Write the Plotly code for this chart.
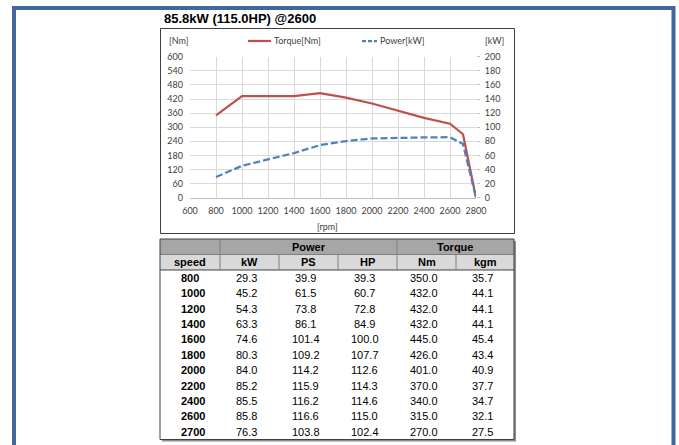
import plotly.graph_objects as go

# ---------------- data ----------------
speed = [800, 1000, 1200, 1400, 1600, 1800, 2000, 2200, 2400, 2600, 2700]
kw = [29.3, 45.2, 54.3, 63.3, 74.6, 80.3, 84.0, 85.2, 85.5, 85.8, 76.3]
ps = [39.9, 61.5, 73.8, 86.1, 101.4, 109.2, 114.2, 115.9, 116.2, 116.6, 103.8]
hp = [39.3, 60.7, 72.8, 84.9, 100.0, 107.7, 112.6, 114.3, 114.6, 115.0, 102.4]
nm = [350.0, 432.0, 432.0, 432.0, 445.0, 426.0, 401.0, 370.0, 340.0, 315.0, 270.0]
kgm = [35.7, 44.1, 44.1, 44.1, 45.4, 43.4, 40.9, 37.7, 34.7, 32.1, 27.5]

chart_rpm = speed + [2800]
chart_torque = nm + [0]
chart_power = kw + [0]

title_text = "85.8kW (115.0HP) @2600"
group_headers = ["", "Power", "Torque"]
col_headers = ["speed", "kW", "PS", "HP", "Nm", "kgm"]
table_cols = [speed, kw, ps, hp, nm, kgm]

# ---------------- geometry helpers ----------------
W, H = 679, 445


def px(x):
    return x / W


def py(y):
    return 1 - y / H


RED = "#c0504d"
BLUE = "#4f81bd"
GRID = "#d9d9d9"
TICKFONT = dict(family="Lato, Carlito, Calibri, sans-serif", size=9, color="#404040")
TABFONT = "Liberation Sans Narrow, Arial Narrow, Liberation Sans, Arial, sans-serif"
TABSIZE = 11

fig = go.Figure()
fig.add_trace(go.Scatter(x=chart_rpm, y=chart_torque, mode="lines", name="Torque[Nm]",
                         line=dict(color=RED, width=2.25), yaxis="y", showlegend=False))
fig.add_trace(go.Scatter(x=chart_rpm, y=chart_power, mode="lines", name="Power[kW]",
                         line=dict(color=BLUE, width=2.25, dash="7px,3px"), yaxis="y2",
                         showlegend=False))

shapes = []
annotations = []

# outer blue frame
shapes.append(dict(type="rect", xref="paper", yref="paper", x0=px(14), x1=px(673.5),
                   y0=py(470), y1=py(8), line=dict(color="#41679c", width=4), layer="below"))
# chart box
shapes.append(dict(type="rect", xref="paper", yref="paper", x0=px(160.5), x1=px(514.5),
                   y0=py(233.5), y1=py(28.5), line=dict(color="#404040", width=1), layer="below"))

# title
annotations.append(dict(text="<b>" + title_text + "</b>", xref="paper", yref="paper",
                        x=px(162), y=py(18), xanchor="left", yanchor="middle", showarrow=False,
                        font=dict(family="Liberation Sans, Arial, sans-serif", size=13, color="#000")))
# unit labels
annotations.append(dict(text="[Nm]", xref="paper", yref="paper", x=px(167), y=py(41),
                        xanchor="left", yanchor="middle", showarrow=False, font=TICKFONT))
annotations.append(dict(text="[kW]", xref="paper", yref="paper", x=px(483), y=py(41),
                        xanchor="left", yanchor="middle", showarrow=False, font=TICKFONT))
annotations.append(dict(text="[rpm]", xref="paper", yref="paper", x=px(327), y=py(226),
                        xanchor="center", yanchor="middle", showarrow=False, font=TICKFONT))

# manual legend
shapes.append(dict(type="line", xref="paper", yref="paper", x0=px(248), x1=px(271),
                   y0=py(41), y1=py(41), line=dict(color=RED, width=2.25)))
annotations.append(dict(text="Torque[Nm]", xref="paper", yref="paper", x=px(272), y=py(41),
                        xanchor="left", yanchor="middle", showarrow=False, font=TICKFONT))
shapes.append(dict(type="line", xref="paper", yref="paper", x0=px(362), x1=px(377),
                   y0=py(41), y1=py(41), line=dict(color=BLUE, width=2.25, dash="4px,2px")))
annotations.append(dict(text="Power[kW]", xref="paper", yref="paper", x=px(378), y=py(41),
                        xanchor="left", yanchor="middle", showarrow=False, font=TICKFONT))

# ---------------- table ----------------
col_edges = [160, 220, 279, 338, 397, 456, 514]
group_edges = [col_edges[0], col_edges[1], col_edges[4], col_edges[6]]
t_top, h1_bot, h2_bot, t_bot = 239, 254.5, 270, 439.5
n_rows = len(speed)
row_h = (t_bot - h2_bot) / n_rows

# shadow
shapes.append(dict(type="rect", xref="paper", yref="paper", x0=px(col_edges[0] + 2), x1=px(col_edges[-1] + 2),
                   y0=py(t_bot + 2), y1=py(t_top + 2), fillcolor="#8c8c8c", line=dict(width=0), layer="below"))
shapes.append(dict(type="rect", xref="paper", yref="paper", x0=px(col_edges[0]), x1=px(col_edges[-1]),
                   y0=py(t_bot), y1=py(t_top), fillcolor="#ffffff", line=dict(width=0), layer="below"))
# header fills
shapes.append(dict(type="rect", xref="paper", yref="paper", x0=px(col_edges[0]), x1=px(col_edges[-1]),
                   y0=py(h1_bot), y1=py(t_top), fillcolor="#a6a6a6", line=dict(width=0), layer="below"))
shapes.append(dict(type="rect", xref="paper", yref="paper", x0=px(col_edges[0]), x1=px(col_edges[-1]),
                   y0=py(h2_bot), y1=py(h1_bot), fillcolor="#d9d9d9", line=dict(width=0), layer="below"))
# header grid lines
shapes.append(dict(type="line", xref="paper", yref="paper", x0=px(col_edges[0]), x1=px(col_edges[-1]),
                   y0=py(h1_bot), y1=py(h1_bot), line=dict(color="#7f7f7f", width=1)))
shapes.append(dict(type="line", xref="paper", yref="paper", x0=px(col_edges[0]), x1=px(col_edges[-1]),
                   y0=py(h2_bot), y1=py(h2_bot), line=dict(color="#404040", width=1)))
for e in group_edges[1:-1]:
    shapes.append(dict(type="line", xref="paper", yref="paper", x0=px(e), x1=px(e),
                       y0=py(h1_bot), y1=py(t_top), line=dict(color="#7f7f7f", width=1)))
for e in col_edges[1:-1]:
    shapes.append(dict(type="line", xref="paper", yref="paper", x0=px(e), x1=px(e),
                       y0=py(h2_bot), y1=py(h1_bot), line=dict(color="#7f7f7f", width=1)))
# outer border
shapes.append(dict(type="rect", xref="paper", yref="paper", x0=px(col_edges[0]), x1=px(col_edges[-1]),
                   y0=py(t_bot), y1=py(t_top), line=dict(color="#404040", width=1)))

# header texts
for i, g in enumerate(group_headers):
    if g:
        annotations.append(dict(text="<b>" + g + "</b>", xref="paper", yref="paper",
                                x=px((group_edges[i] + group_edges[i + 1]) / 2), y=py((t_top + h1_bot) / 2),
                                xanchor="center", yanchor="middle", showarrow=False,
                                font=dict(family=TABFONT, size=TABSIZE, color="#000")))
for i, c in enumerate(col_headers):
    annotations.append(dict(text="<b>" + c + "</b>", xref="paper", yref="paper",
                            x=px((col_edges[i] + col_edges[i + 1]) / 2), y=py((h1_bot + h2_bot) / 2),
                            xanchor="center", yanchor="middle", showarrow=False,
                            font=dict(family=TABFONT, size=TABSIZE, color="#000")))
# data texts
for r in range(n_rows):
    yc = h2_bot + row_h * (r + 0.5)
    for c, col in enumerate(table_cols):
        if c == 0:
            txt = "<b>" + str(col[r]) + "</b>"
            annotations.append(dict(text=txt, xref="paper", yref="paper", x=px(179), y=py(yc),
                                    xanchor="left", yanchor="middle", showarrow=False,
                                    font=dict(family=TABFONT, size=TABSIZE, color="#000")))
        else:
            txt = f"{col[r]:.1f}"
            annotations.append(dict(text=txt, xref="paper", yref="paper",
                                    x=px((col_edges[c] + col_edges[c + 1]) / 2 - 3), y=py(yc),
                                    xanchor="center", yanchor="middle", showarrow=False,
                                    font=dict(family=TABFONT, size=TABSIZE, color="#000")))

fig.update_layout(
    width=W, height=H, margin=dict(l=0, r=0, t=0, b=0, pad=0, autoexpand=False),
    paper_bgcolor="#ffffff", plot_bgcolor="rgba(0,0,0,0)",
    showlegend=False,
    xaxis=dict(domain=[px(190), px(476)], range=[600, 2800], tickmode="linear", tick0=600, dtick=200,
               showgrid=True, gridcolor=GRID, gridwidth=1, zeroline=False, automargin=False,
               showline=True, linecolor="#bfbfbf", linewidth=1, ticks="",
               tickfont=TICKFONT, ticklabelstandoff=4, anchor="y"),
    yaxis=dict(domain=[py(197.7), py(56.7)], range=[0, 600], tickmode="linear", tick0=0, dtick=60,
               showgrid=True, gridcolor=GRID, gridwidth=1, zeroline=False, showline=False,
               automargin=False, ticks="", tickfont=TICKFONT, ticklabelstandoff=6, anchor="x"),
    yaxis2=dict(domain=[py(197.7), py(56.7)], range=[0, 200], tickmode="linear", tick0=0, dtick=20,
                overlaying="y", side="right", showgrid=False, zeroline=False, showline=False,
                automargin=False, ticks="outside", ticklen=3, tickcolor="#bfbfbf", tickfont=TICKFONT,
                ticklabelstandoff=3, anchor="x"),
    shapes=shapes, annotations=annotations,
)

fig.write_html("out.html", config={"displayModeBar": False},
               post_script="document.body.style.margin='0';document.body.style.padding='0';"
                           "document.documentElement.style.overflow='hidden';")
